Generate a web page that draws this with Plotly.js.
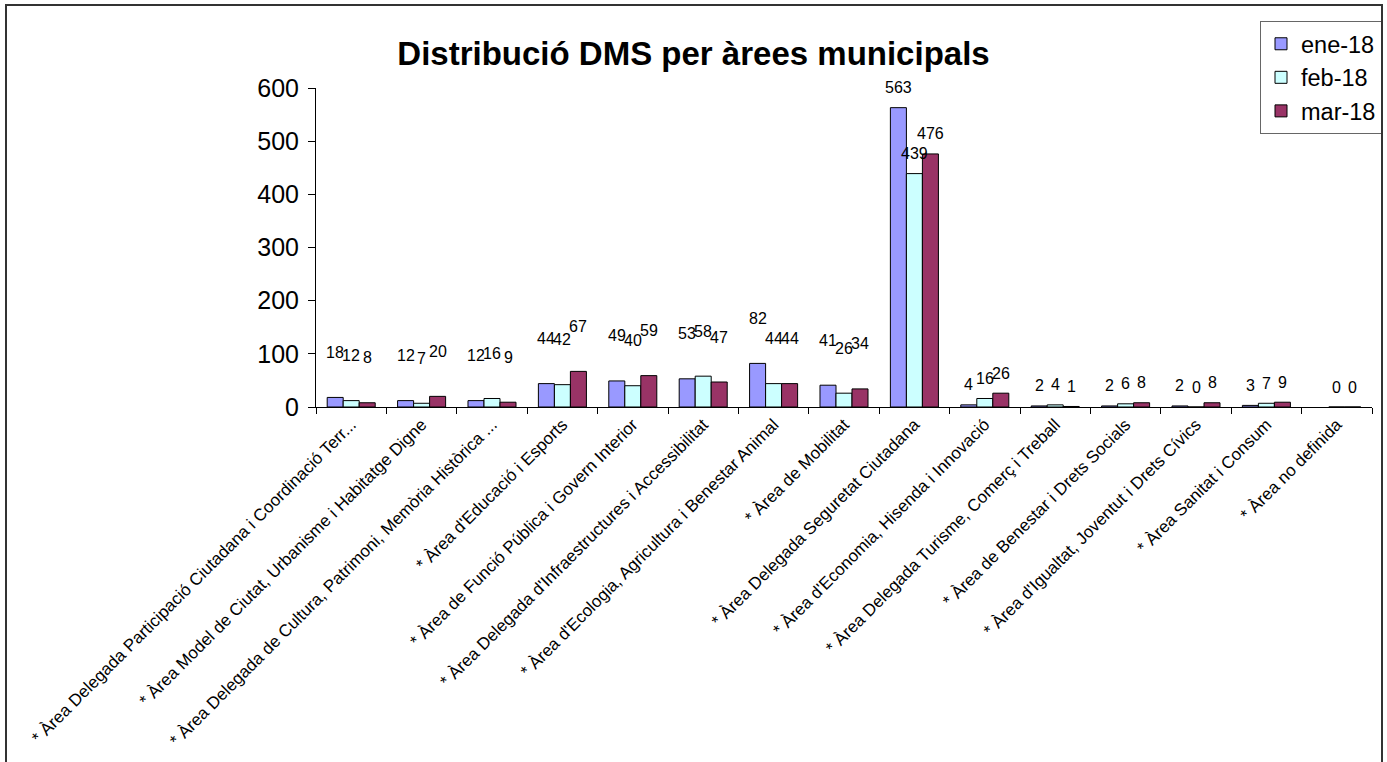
<!DOCTYPE html>
<html>
<head>
<meta charset="utf-8">
<script src="https://cdn.plot.ly/plotly-3.0.1.min.js"></script>
<style>
  html, body { margin: 0; padding: 0; background: #fff; }
  #wrap { position: relative; width: 1387px; height: 762px; overflow: hidden; }
  #chart { position: absolute; left: 0; top: 0; width: 1387px; height: 762px; }
  #frame { position: absolute; left: 5px; top: 4px; width: 1378px; height: 800px;
           border: 2px solid #333; box-sizing: border-box; pointer-events: none; }
</style>
</head>
<body>
<div id="wrap">
  <div id="chart"></div>
  <div id="frame"></div>
</div>
<script>
const categories = [
  "* Àrea Delegada Participació Ciutadana i Coordinació Terr...",
  "* Àrea Model de Ciutat, Urbanisme i Habitatge Digne",
  "* Àrea Delegada de Cultura, Patrimoni, Memòria Històrica ...",
  "* Àrea d'Educació i Esports",
  "* Àrea de Funció Pública i Govern Interior",
  "* Àrea Delegada d'Infraestructures i Accessibilitat",
  "* Àrea d'Ecologia, Agricultura i Benestar Animal",
  "* Àrea de Mobilitat",
  "* Àrea Delegada Seguretat Ciutadana",
  "* Àrea d'Economia, Hisenda i Innovació",
  "* Àrea Delegada Turisme, Comerç i Treball",
  "* Àrea de Benestar i Drets Socials",
  "* Àrea d'Igualtat, Joventut i Drets Cívics",
  "* Àrea Sanitat i Consum",
  "* Àrea no definida"
];
const seriesNames = ["ene-18", "feb-18", "mar-18"];
const ene18 = [18, 12, 12, 44, 49, 53, 82, 41, 563, 4, 2, 2, 2, 3, null];
const feb18 = [12, 7, 16, 42, 40, 58, 44, 26, 439, 16, 4, 6, 0, 7, 0];
const mar18 = [8, 20, 9, 67, 59, 47, 44, 34, 476, 26, 1, 8, 8, 9, 0];
const yTicks = [0, 100, 200, 300, 400, 500, 600];

const colors = ["#9999FF", "#CCFFFF", "#993366"];
const FONT = "Liberation Sans, Arial, sans-serif";
const W = 1387, H = 762;
const margin = {l: 316, r: 15, t: 88, b: 355, autoexpand: false};
const bargap = 0.318;

const seriesValues = [ene18, feb18, mar18];
const traces = seriesValues.map((vals, s) => ({
  type: "bar",
  name: seriesNames[s],
  x: categories,
  y: vals,
  marker: {color: colors[s], line: {color: "#000", width: 1}},
  hoverinfo: "y"
}));

// data labels, placed through the axes (category + value), shifted per series
const plotW = W - margin.l - margin.r;
const plotH = H - margin.t - margin.b;
const catPx = plotW / categories.length;
const barPx = catPx * (1 - bargap) / 3;
const annotations = [];
seriesValues.forEach((vals, s) => {
  vals.forEach((v, i) => {
    if (v === null) return;
    annotations.push({
      x: categories[i], y: v, xref: "x", yref: "y",
      text: String(v), showarrow: false,
      xshift: (s - 1) * barPx,
      yshift: i < 8 ? 45 : 20,
      yanchor: "middle", xanchor: "center",
      font: {family: FONT, size: 16, color: "#000"}
    });
  });
});

const layout = {
  width: W, height: H,
  margin: margin,
  paper_bgcolor: "#fff", plot_bgcolor: "#fff",
  barmode: "group",
  bargap: bargap, bargroupgap: 0,
  showlegend: true,
  title: {
    text: "<b>Distribució DMS per àrees municipals</b>",
    font: {family: FONT, size: 33, color: "#000"},
    xref: "container", yref: "container",
    x: 0.5, y: 1 - 53 / H, xanchor: "center", yanchor: "middle"
  },
  xaxis: {
    type: "category",
    tickangle: -45,
    tickfont: {family: FONT, size: 17, color: "#000"},
    showline: true, linecolor: "#000", linewidth: 1,
    ticks: "outside", ticklen: 6, tickcolor: "#000", tickson: "boundaries",
    showgrid: false, zeroline: false,
    automargin: false
  },
  yaxis: {
    range: [0, 600],
    tickvals: yTicks,
    ticktext: yTicks.map(String),
    tickfont: {family: FONT, size: 25, color: "#000"},
    showline: true, linecolor: "#000", linewidth: 1,
    ticks: "outside", ticklen: 7, tickcolor: "#000",
    ticklabelstandoff: 4,
    showgrid: false, zeroline: false,
    automargin: false
  },
  legend: {
    x: (1260 - margin.l) / plotW,
    y: 1 + (margin.t - 21) / plotH,
    xanchor: "left", yanchor: "top",
    bgcolor: "#fff", bordercolor: "#666", borderwidth: 1,
    font: {family: FONT, size: 23.5, color: "#000"},
    itemwidth: 30,
    tracegroupgap: 0
  },
  annotations: annotations
};

Plotly.newPlot("chart", traces, layout, {displayModeBar: false, staticPlot: true});
</script>
</body>
</html>
